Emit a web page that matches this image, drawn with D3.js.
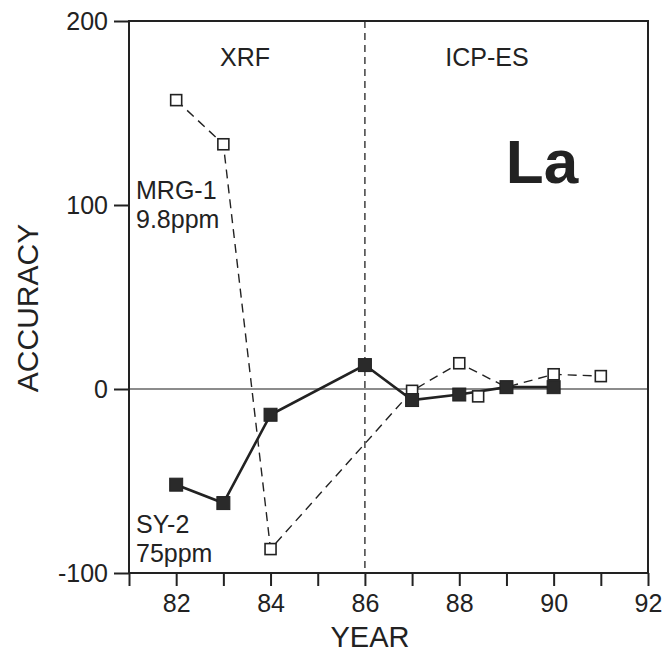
<!DOCTYPE html>
<html>
<head>
<meta charset="utf-8">
<script src="https://cdn.jsdelivr.net/npm/d3@7"></script>
<style>
  body { margin: 0; background: #fff; }
  svg text { font-family: "Liberation Sans", Arial, sans-serif; fill: #222; }
</style>
</head>
<body>
<div id="chart"></div>
<script>
// Data
const mrgYears = [82, 83, 84, 87, 88, 89, 90, 91];
const mrgValues = [157, 133, -87, -1, 14, 1, 8, 7];
const mrgLoneYears = [88.4];
const mrgLoneValues = [-4];
const syYears = [82, 83, 84, 86, 87, 88, 89, 90];
const syValues = [-52, -62, -14, 13, -6, -3, 1, 1];
const xTicks = [81, 82, 83, 84, 85, 86, 87, 88, 89, 90, 91, 92];
const xLabels = [82, 84, 86, 88, 90, 92];
const yTicks = [-100, 0, 100, 200];

const width = 663;
const height = 656;
const margin = { top: 21, right: 15, bottom: 83, left: 129 };

const svg = d3
  .select("#chart")
  .append("svg")
  .attr("width", width)
  .attr("height", height);

const x = d3.scaleLinear().domain([81, 92]).range([margin.left, width - margin.right]);
const y = d3.scaleLinear().domain([-100, 200]).range([height - margin.bottom, margin.top]);

const ink = "#222";

// Zero line
svg.append("line")
  .attr("x1", x(81)).attr("x2", x(92))
  .attr("y1", y(0)).attr("y2", y(0))
  .attr("stroke", "#666").attr("stroke-width", 1.3);

// Divider XRF / ICP-ES
svg.append("line")
  .attr("x1", x(86)).attr("x2", x(86))
  .attr("y1", y(200)).attr("y2", y(-100))
  .attr("stroke", ink).attr("stroke-width", 1.3)
  .attr("stroke-dasharray", "7,5");

// Frame
svg.append("rect")
  .attr("x", x(81)).attr("y", y(200))
  .attr("width", x(92) - x(81)).attr("height", y(-100) - y(200))
  .attr("fill", "none").attr("stroke", ink).attr("stroke-width", 2);

// Axes
const xAxis = svg.append("g")
  .attr("transform", `translate(0,${y(-100)})`)
  .call(d3.axisBottom(x).tickValues(xTicks).tickSize(13).tickPadding(8)
    .tickFormat((d) => (xLabels.includes(d) ? d : "")));
const yAxis = svg.append("g")
  .attr("transform", `translate(${x(81)},0)`)
  .call(d3.axisLeft(y).tickValues(yTicks).tickSize(15).tickPadding(6)
    .tickFormat((d) => String(d)));

[xAxis, yAxis].forEach((g) => {
  g.select(".domain").remove();
  g.selectAll("line").attr("stroke", ink).attr("stroke-width", 2);
  g.selectAll("text").style("font-size", "25px").attr("fill", ink);
});

// Series lines
const mrg = mrgYears.map((d, i) => ({ year: d, value: mrgValues[i] }));
const sy = syYears.map((d, i) => ({ year: d, value: syValues[i] }));
const line = d3.line().x((d) => x(d.year)).y((d) => y(d.value));

svg.append("path")
  .datum(mrg)
  .attr("d", line)
  .attr("fill", "none")
  .attr("stroke", ink)
  .attr("stroke-width", 1.4)
  .attr("stroke-dasharray", "9,6");

svg.append("path")
  .datum(sy)
  .attr("d", line)
  .attr("fill", "none")
  .attr("stroke", ink)
  .attr("stroke-width", 2.6);

// Markers
const lone = mrgLoneYears.map((d, i) => ({ year: d, value: mrgLoneValues[i] }));
const s = 11;
svg.selectAll("rect.open")
  .data(mrg.concat(lone))
  .enter()
  .append("rect")
  .attr("class", "open")
  .attr("x", (d) => x(d.year) - s / 2)
  .attr("y", (d) => y(d.value) - s / 2)
  .attr("width", s).attr("height", s)
  .attr("fill", "#fff").attr("stroke", ink).attr("stroke-width", 1.6);

const f = 13;
svg.selectAll("rect.filled")
  .data(sy)
  .enter()
  .append("rect")
  .attr("class", "filled")
  .attr("x", (d) => x(d.year) - f / 2)
  .attr("y", (d) => y(d.value) - f / 2)
  .attr("width", f).attr("height", f)
  .attr("fill", "#2a2a2a").attr("stroke", ink).attr("stroke-width", 1);

// Text labels
const addText = (txt, tx, ty, size, anchor, weight) =>
  svg.append("text")
    .attr("x", tx).attr("y", ty)
    .attr("text-anchor", anchor || "start")
    .style("font-size", size + "px")
    .style("font-weight", weight || "normal")
    .text(txt);

addText("XRF", 245, 66, 25, "middle");
addText("ICP-ES", 487, 66, 25, "middle");
addText("La", 542, 183, 62, "middle", "bold");
addText("MRG-1", 136, 199, 25);
addText("9.8ppm", 136, 228, 25);
addText("SY-2", 136, 533, 25);
addText("75ppm", 136, 562, 25);
addText("YEAR", 370, 647, 29, "middle");

svg.append("text")
  .attr("transform", `translate(38,308) rotate(-90)`)
  .attr("text-anchor", "middle")
  .style("font-size", "30px")
  .text("ACCURACY");
</script>
</body>
</html>
